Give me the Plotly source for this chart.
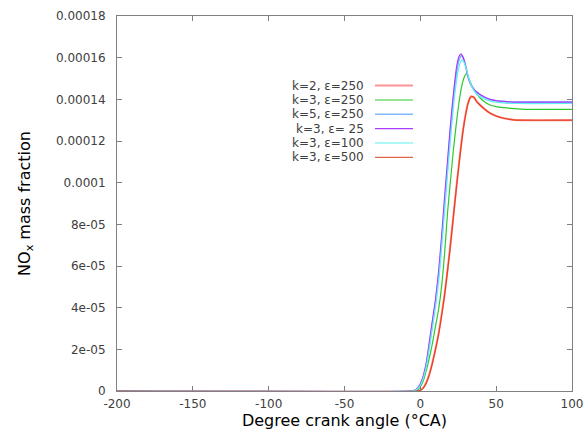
import plotly.graph_objects as go

# ---------------- data (values in units of 1e-5) ----------------
x_k2_e250 = [-200, -2, 0, 2, 4, 6, 8, 10, 12, 14, 16, 18, 20, 22, 24, 26, 28, 30, 31.5, 33.5, 35, 37, 39.3, 42, 46, 50, 55, 60, 66, 100]
y_k2_e250 = [0, 0, 0.03, 0.16, 0.42, 0.82, 1.38, 2.03, 2.75, 3.65, 4.65, 5.85, 7.15, 8.55, 9.95, 11.25, 12.45, 13.35, 13.85, 14.15, 14.1, 13.92, 13.74, 13.56, 13.34, 13.2, 13.09, 13.03, 13.0, 13.0]

x_k3_e250 = [-200, -4, -2, 0, 2, 4, 6, 8, 10, 12, 14, 16, 18, 20, 22, 24, 26, 28, 29.5, 30.6, 32, 34, 36, 39, 42, 46, 50, 55, 62, 70, 100]
y_k3_e250 = [0, 0, 0.05, 0.2, 0.5, 1.0, 1.6, 2.3, 3.1, 3.9, 5.0, 6.6, 8.6, 10.2, 11.7, 13.0, 14.1, 14.85, 15.15, 15.22, 15.0, 14.65, 14.4, 14.1, 13.9, 13.73, 13.65, 13.6, 13.55, 13.52, 13.52]

x_k5_e250 = [-200, -5.7, -3.7, -1.7, 0.3, 2.3, 4.3, 6.3, 8.3, 10.3, 12.3, 14.3, 16.3, 18.3, 20.3, 22.3, 24.3, 25.8, 27.1, 28.3, 29.8, 31.3, 33.3, 35.3, 38.3, 42.3, 46.3, 50.3, 55.3, 62.3, 100]
y_k5_e250 = [0, 0, 0.03, 0.12, 0.35, 0.75, 1.4, 2.4, 3.4, 4.4, 5.7, 7.4, 9.3, 11.1, 12.85, 14.35, 15.5, 15.95, 16.1, 15.98, 15.65, 15.15, 14.72, 14.48, 14.28, 14.1, 13.98, 13.92, 13.89, 13.87, 13.87]

x_k3_e25 = [-200, -6, -4, -2, 0, 2, 4, 6, 8, 10, 12, 14, 16, 18, 20, 22, 24, 25.5, 26.8, 28, 29.5, 31, 33, 35, 38, 42, 46, 50, 55, 62, 100]
y_k3_e25 = [0, 0, 0.03, 0.12, 0.35, 0.75, 1.4, 2.4, 3.4, 4.4, 5.7, 7.4, 9.3, 11.1, 12.9, 14.4, 15.6, 16.05, 16.18, 16.05, 15.7, 15.2, 14.75, 14.5, 14.3, 14.12, 14.0, 13.94, 13.9, 13.87, 13.87]

x_k3_e100 = [-200, -5.5, -3.5, -1.5, 0.5, 2.5, 4.5, 6.5, 8.5, 10.5, 12.5, 14.5, 16.5, 18.5, 20.5, 22.5, 24.5, 26, 27.5, 29, 30.5, 32, 34, 36, 39, 43, 47, 51, 56, 63, 100]
y_k3_e100 = [0, 0, 0.03, 0.12, 0.35, 0.75, 1.4, 2.3, 3.3, 4.3, 5.6, 7.3, 9.1, 10.9, 12.6, 14.1, 15.2, 15.7, 15.89, 15.75, 15.4, 15.0, 14.6, 14.35, 14.15, 14.0, 13.9, 13.85, 13.82, 13.80, 13.80]

x_k3_e500 = [-200, -2, 0, 2, 4, 6, 8, 10, 12, 14, 16, 18, 20, 22, 24, 26, 28, 30, 31.5, 33, 34, 35.5, 37, 39.3, 42, 46, 50, 55, 60, 66, 100]
y_k3_e500 = [0, 0, 0.03, 0.15, 0.4, 0.8, 1.35, 2.0, 2.7, 3.6, 4.6, 5.8, 7.1, 8.5, 9.9, 11.2, 12.4, 13.3, 13.8, 14.08, 14.13, 14.1, 13.9, 13.73, 13.55, 13.33, 13.2, 13.09, 13.03, 13.0, 13.0]

scale = 1e-5
series_names = ["k=2, ε=250", "k=3, ε=250", "k=5, ε=250", "k=3, ε= 25", "k=3, ε=100", "k=3, ε=500"]
series_x = [x_k2_e250, x_k3_e250, x_k5_e250, x_k3_e25, x_k3_e100, x_k3_e500]
series_y = [y_k2_e250, y_k3_e250, y_k5_e250, y_k3_e25, y_k3_e100, y_k3_e500]
colors = ["#ff8f8f", "#2ec82e", "#80b8ff", "#a83cff", "#5ef0f0", "#e8401e"]
legend_colors = ["#ff9494", "#2ec82e", "#80b8ff", "#a83cff", "#5ef0f0", "#e06a48"]
widths = [2.0, 1.2, 1.6, 1.2, 1.2, 1.2]

x_ticks = [-200, -150, -100, -50, 0, 50, 100]
x_ticktext = ["-200", "-150", "-100", "-50", "0", "50", "100"]
y_tickvals = [0, 2e-5, 4e-5, 6e-5, 8e-5, 1e-4, 1.2e-4, 1.4e-4, 1.6e-4, 1.8e-4]
y_ticktext = ["0", "2e-05", "4e-05", "6e-05", "8e-05", "0.0001", "0.00012", "0.00014", "0.00016", "0.00018"]

# ---------------- figure ----------------
fig = go.Figure()
for name, xs, ys, c, w in zip(series_names, series_x, series_y, colors, widths):
    fig.add_trace(go.Scatter(
        x=xs, y=[v * scale for v in ys], mode="lines", name=name,
        line=dict(color=c, width=w, shape="spline", smoothing=0.6),
        showlegend=False,
    ))

L, R, T, B = 117, 14, 16, 41
W, H = 586, 432
pw, ph = W - L - R, H - T - B

def px2paper(px, py):
    return (px - L) / pw, (H - B - py) / ph

row_y = [85.5, 100, 114.3, 128.7, 143, 157.4]
for name, c, w, py in zip(series_names, legend_colors, widths, row_y):
    tx, ty = px2paper(366, py)
    fig.add_annotation(x=tx, y=ty, xref="paper", yref="paper", text=name,
                       showarrow=False, xanchor="right", yanchor="middle",
                       font=dict(family="DejaVu Sans", size=12, color="#404040"))
    x0, y0 = px2paper(375, py)
    x1, _ = px2paper(413, py)
    fig.add_shape(type="line", xref="paper", yref="paper", x0=x0, x1=x1, y0=y0, y1=y0,
                  line=dict(color=c, width=w))

axis_common = dict(showline=True, linecolor="#808080", linewidth=1, mirror="allticks",
                   ticks="inside", ticklen=5, tickcolor="#808080", showgrid=False,
                   zeroline=False, automargin=False,
                   tickfont=dict(family="DejaVu Sans", size=12, color="#404040"))

fig.update_layout(
    width=W, height=H,
    margin=dict(l=L, r=R, t=T, b=B),
    paper_bgcolor="white", plot_bgcolor="white",
    font=dict(family="DejaVu Sans"),
    xaxis=dict(range=[-200, 100], tickvals=x_ticks, ticktext=x_ticktext, ticklabelstandoff=2,
               title=dict(text="Degree crank angle (°CA)", font=dict(size=16, color="black"), standoff=4),
               **axis_common),
    yaxis=dict(range=[0, 1.8e-4], tickvals=y_tickvals, ticktext=y_ticktext, ticklabelstandoff=8,
               title=dict(text="NO<sub>x</sub> mass fraction", font=dict(size=16, color="black"), standoff=21),
               **axis_common),
)

fig.write_html("out.html")
